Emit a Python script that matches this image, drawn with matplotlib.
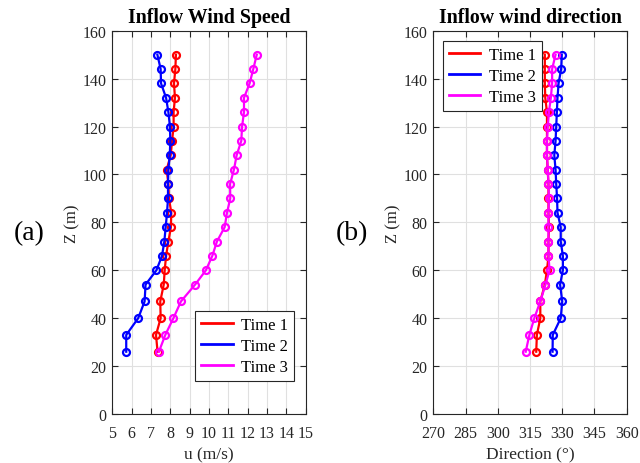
import matplotlib
matplotlib.use("Agg")
import matplotlib.pyplot as plt

plt.rcParams['font.family'] = ['Liberation Serif', 'DejaVu Serif']
plt.rcParams['mathtext.fontset'] = 'stix'

z = [26, 33, 40, 47, 54, 60, 66, 72, 78, 84, 90, 96, 102, 108, 114, 120, 126, 132, 138, 144, 150]

u_time1 = [7.34, 7.26, 7.50, 7.48, 7.66, 7.71, 7.78, 7.90, 8.03, 8.05, 7.93, 7.90, 7.81, 8.02, 8.09, 8.17, 8.17, 8.24, 8.19, 8.26, 8.29]
u_time2 = [5.72, 5.72, 6.34, 6.67, 6.72, 7.28, 7.57, 7.69, 7.76, 7.83, 7.88, 7.88, 7.90, 7.97, 8.00, 7.98, 7.90, 7.78, 7.52, 7.50, 7.33]
u_time3 = [7.41, 7.74, 8.16, 8.55, 9.28, 9.84, 10.17, 10.41, 10.81, 10.93, 11.10, 11.09, 11.29, 11.43, 11.67, 11.71, 11.81, 11.81, 12.10, 12.29, 12.47]

d_time1 = [317.9, 318.2, 319.8, 319.8, 321.9, 322.9, 323.6, 323.6, 323.8, 323.6, 323.6, 323.6, 323.2, 322.9, 322.9, 322.9, 322.9, 322.1, 321.9, 321.9, 321.9]
d_time2 = [325.5, 325.6, 329.3, 330.0, 329.0, 330.3, 330.3, 329.3, 329.3, 327.8, 327.6, 327.2, 326.9, 326.3, 326.9, 327.2, 327.5, 327.8, 328.3, 329.5, 329.8]
d_time3 = [313.0, 314.7, 317.0, 319.8, 322.2, 324.1, 323.6, 323.6, 323.6, 323.6, 323.8, 323.6, 323.3, 322.9, 322.9, 323.3, 323.8, 324.7, 325.3, 325.3, 326.9]

labels = ['Time 1', 'Time 2', 'Time 3']
colors = ['#ff0000', '#0000ff', '#ff00ff']

u_ticks = list(range(5, 16))
d_ticks = [270, 285, 300, 315, 330, 345, 360]
z_ticks = list(range(0, 161, 20))

fig = plt.figure(figsize=(6.4, 4.64), dpi=100)
ax1 = fig.add_axes([112.3/640, 1 - 415/464, 193.4/640, 383.3/464])
ax2 = fig.add_axes([433.3/640, 1 - 415/464, 193.4/640, 383.3/464])

def style(ax):
    ax.grid(True, color='#e0e0e0', linewidth=0.8)
    ax.set_axisbelow(True)
    for s in ax.spines.values():
        s.set_color('#262626')
        s.set_linewidth(0.8)
    ax.tick_params(direction='in', top=True, right=True, length=4, width=0.8,
                   labelsize=11.5, colors='#262626', pad=4)
    ax.tick_params(axis='x', pad=8)
    ax.set_yticks(z_ticks)
    ax.set_ylim(0, 160)
    ax.set_ylabel('Z (m)', fontsize=12, color='#262626', labelpad=2)

for vals, c, lab in zip([u_time1, u_time2, u_time3], colors, labels):
    ax1.plot(vals, z, '-o', color=c, lw=1.6, ms=5, mfc='none', mew=1.6, label=lab)
for vals, c, lab in zip([d_time1, d_time2, d_time3], colors, labels):
    ax2.plot(vals, z, '-o', color=c, lw=1.6, ms=5, mfc='none', mew=1.6, label=lab)

style(ax1)
style(ax2)
ax1.set_xlim(5, 15)
ax1.set_xticks(u_ticks)
ax2.set_xlim(270, 360)
ax2.set_xticks(d_ticks)
ax1.set_xlabel('u (m/s)', fontsize=12.5, color='#262626', labelpad=4)
ax2.set_xlabel('Direction (°)', fontsize=12.5, color='#262626', labelpad=4)
ax1.set_title('Inflow Wind Speed', fontsize=14.3, fontweight='bold', pad=6)
ax2.set_title('Inflow wind direction', fontsize=14.3, fontweight='bold', pad=6)

leg_kw = dict(fontsize=12, fancybox=False, edgecolor='#262626', framealpha=1,
              handlelength=1.9, borderpad=0.35, labelspacing=0.3, handletextpad=0.5,
              borderaxespad=0)
l1 = ax1.legend(loc='lower right', bbox_to_anchor=(0.94, 0.086), **leg_kw)
l2 = ax2.legend(loc='upper left', bbox_to_anchor=(0.05, 0.973), **leg_kw)
for leg in (l1, l2):
    leg.get_frame().set_linewidth(0.8)
    for h in leg.get_lines():
        h.set_marker('')
        h.set_linewidth(2)

fig.text(29/640, 1 - 234/464, '(a)', fontsize=20, ha='center', va='center')
fig.text(352/640, 1 - 234/464, '(b)', fontsize=20, ha='center', va='center')

fig.savefig('out.png', dpi=100)
